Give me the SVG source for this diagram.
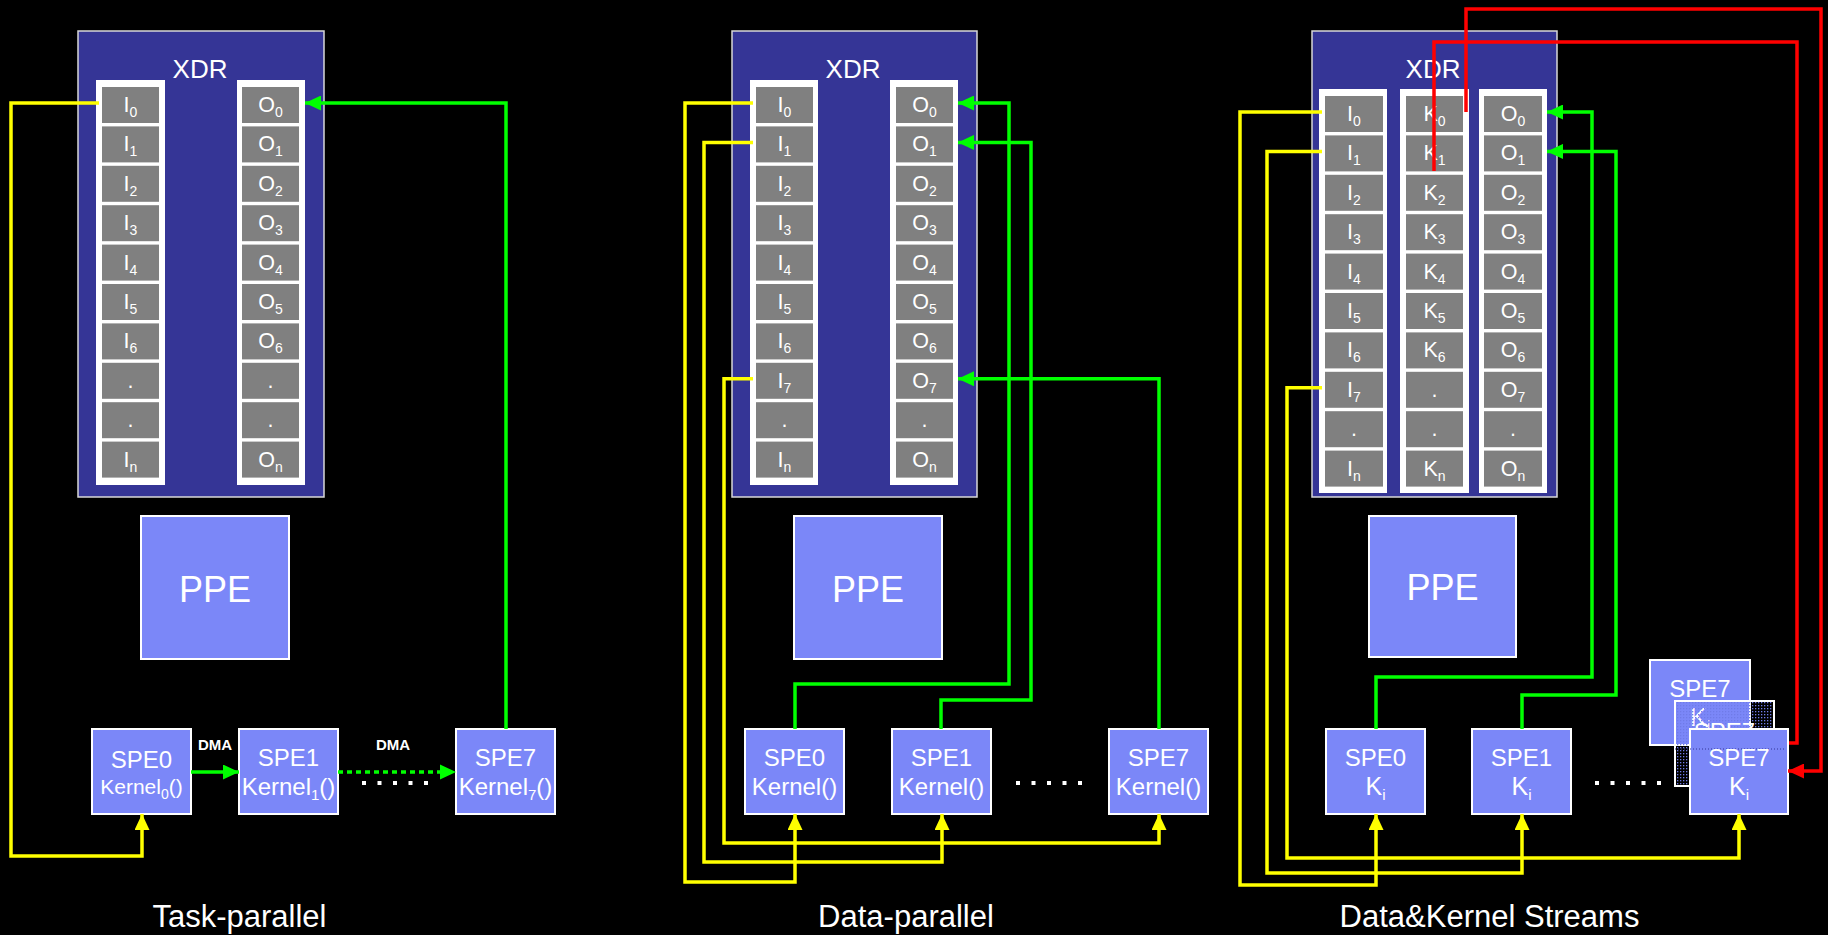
<svg xmlns="http://www.w3.org/2000/svg" width="1828" height="935" viewBox="0 0 1828 935">
<defs>
<style>
.xdr{fill:#353596;stroke:#d8d8d8;stroke-width:1.5}
.frame{fill:#ffffff}
.cell{fill:#808080}
.ct{font-family:"Liberation Sans",Arial,sans-serif;font-size:21.5px;fill:#fff;text-anchor:middle}
.ct tspan{font-size:14px}
.box{fill:#7b87f8;stroke:#fff;stroke-width:2}
.t{font-family:"Liberation Sans",Arial,sans-serif;fill:#fff;text-anchor:middle}
.y{stroke:#ffff00;stroke-width:3.5;fill:none}
.g{stroke:#00ff00;stroke-width:3.5;fill:none}
.r{stroke:#ff0000;stroke-width:3.5;fill:none}
.dots{stroke:#fff;stroke-width:4;stroke-dasharray:4 11.5;fill:none}
</style>
<marker id="ay" markerUnits="userSpaceOnUse" markerWidth="16" markerHeight="15" refX="16" refY="7.5" orient="auto" viewBox="0 0 16 15"><path d="M0,0 L16,7.5 L0,15 z" fill="#ffff00"/></marker>
<marker id="ag" markerUnits="userSpaceOnUse" markerWidth="16" markerHeight="15" refX="16" refY="7.5" orient="auto" viewBox="0 0 16 15"><path d="M0,0 L16,7.5 L0,15 z" fill="#00ff00"/></marker>
<marker id="ar" markerUnits="userSpaceOnUse" markerWidth="16" markerHeight="15" refX="16" refY="7.5" orient="auto" viewBox="0 0 16 15"><path d="M0,0 L16,7.5 L0,15 z" fill="#ff0000"/></marker>
<pattern id="dotpat" patternUnits="userSpaceOnUse" width="3" height="3"><rect x="0" y="0" width="1.3" height="1.3" fill="#6f7be8"/></pattern>
</defs>
<rect x="0" y="0" width="1828" height="935" fill="#000"/>

<!-- ===== Panel 1: Task-parallel ===== -->
<g id="xdr1">
<rect class="xdr" x="78" y="31" width="246" height="466"/>
<text class="t" x="200" y="78" font-size="26">XDR</text>
<rect class="frame" x="96" y="80" width="69" height="405"/>
<rect class="frame" x="237" y="80" width="68" height="405"/>
<g class="cell">
<rect x="102" y="87" width="57" height="36"/><rect x="102" y="126.4" width="57" height="36"/><rect x="102" y="165.8" width="57" height="36"/><rect x="102" y="205.2" width="57" height="36"/><rect x="102" y="244.6" width="57" height="36"/><rect x="102" y="284" width="57" height="36"/><rect x="102" y="323.4" width="57" height="36"/><rect x="102" y="362.8" width="57" height="36"/><rect x="102" y="402.2" width="57" height="36"/><rect x="102" y="441.6" width="57" height="36"/>
<rect x="242" y="87" width="57" height="36"/><rect x="242" y="126.4" width="57" height="36"/><rect x="242" y="165.8" width="57" height="36"/><rect x="242" y="205.2" width="57" height="36"/><rect x="242" y="244.6" width="57" height="36"/><rect x="242" y="284" width="57" height="36"/><rect x="242" y="323.4" width="57" height="36"/><rect x="242" y="362.8" width="57" height="36"/><rect x="242" y="402.2" width="57" height="36"/><rect x="242" y="441.6" width="57" height="36"/>
</g>
<text class="ct" x="130.5" y="112">I<tspan dy="5">0</tspan></text>
<text class="ct" x="130.5" y="151.4">I<tspan dy="5">1</tspan></text>
<text class="ct" x="130.5" y="190.8">I<tspan dy="5">2</tspan></text>
<text class="ct" x="130.5" y="230.2">I<tspan dy="5">3</tspan></text>
<text class="ct" x="130.5" y="269.6">I<tspan dy="5">4</tspan></text>
<text class="ct" x="130.5" y="309">I<tspan dy="5">5</tspan></text>
<text class="ct" x="130.5" y="348.4">I<tspan dy="5">6</tspan></text>
<text class="ct" x="130.5" y="387.8">.</text>
<text class="ct" x="130.5" y="427.2">.</text>
<text class="ct" x="130.5" y="466.6">I<tspan dy="5">n</tspan></text>
<text class="ct" x="270.5" y="112">O<tspan dy="5">0</tspan></text>
<text class="ct" x="270.5" y="151.4">O<tspan dy="5">1</tspan></text>
<text class="ct" x="270.5" y="190.8">O<tspan dy="5">2</tspan></text>
<text class="ct" x="270.5" y="230.2">O<tspan dy="5">3</tspan></text>
<text class="ct" x="270.5" y="269.6">O<tspan dy="5">4</tspan></text>
<text class="ct" x="270.5" y="309">O<tspan dy="5">5</tspan></text>
<text class="ct" x="270.5" y="348.4">O<tspan dy="5">6</tspan></text>
<text class="ct" x="270.5" y="387.8">.</text>
<text class="ct" x="270.5" y="427.2">.</text>
<text class="ct" x="270.5" y="466.6">O<tspan dy="5">n</tspan></text>
</g>
<g id="ppe1">
<rect class="box" x="141" y="516" width="148" height="143"/>
<text class="t" x="215" y="602" font-size="36">PPE</text>
</g>
<g id="spe0-1">
<rect class="box" x="92" y="729" width="99" height="85"/>
<text class="t" x="141.5" y="768" font-size="24">SPE0</text>
<text class="t" x="141.5" y="794" font-size="21">Kernel<tspan dy="5" font-size="14">0</tspan><tspan dy="-5">()</tspan></text>
</g>
<g id="spe1-1">
<rect class="box" x="239" y="729" width="99" height="85"/>
<text class="t" x="288.5" y="766" font-size="24">SPE1</text>
<text class="t" x="288.5" y="795" font-size="24">Kernel<tspan dy="5" font-size="15">1</tspan><tspan dy="-5">()</tspan></text>
</g>
<g id="spe7-1">
<rect class="box" x="456" y="729" width="99" height="85"/>
<text class="t" x="505.5" y="766" font-size="24">SPE7</text>
<text class="t" x="505.5" y="795" font-size="24">Kernel<tspan dy="5" font-size="15">7</tspan><tspan dy="-5">()</tspan></text>
</g>
<g id="labels1">
<text class="t" x="215" y="750" font-size="15" font-weight="bold">DMA</text>
<text class="t" x="393" y="750" font-size="15" font-weight="bold">DMA</text>
<path class="dots" d="M362,783 H428"/>
<text class="t" x="239.5" y="927" font-size="31">Task-parallel</text>
</g>

<!-- ===== Panel 2: Data-parallel ===== -->
<g id="xdr2">
<rect class="xdr" x="732" y="31" width="245" height="466"/>
<text class="t" x="853" y="78" font-size="26">XDR</text>
<rect class="frame" x="750" y="80" width="68" height="405"/>
<rect class="frame" x="890" y="80" width="68" height="405"/>
<g class="cell">
<rect x="756" y="87" width="57" height="36"/><rect x="756" y="126.4" width="57" height="36"/><rect x="756" y="165.8" width="57" height="36"/><rect x="756" y="205.2" width="57" height="36"/><rect x="756" y="244.6" width="57" height="36"/><rect x="756" y="284" width="57" height="36"/><rect x="756" y="323.4" width="57" height="36"/><rect x="756" y="362.8" width="57" height="36"/><rect x="756" y="402.2" width="57" height="36"/><rect x="756" y="441.6" width="57" height="36"/>
<rect x="896" y="87" width="57" height="36"/><rect x="896" y="126.4" width="57" height="36"/><rect x="896" y="165.8" width="57" height="36"/><rect x="896" y="205.2" width="57" height="36"/><rect x="896" y="244.6" width="57" height="36"/><rect x="896" y="284" width="57" height="36"/><rect x="896" y="323.4" width="57" height="36"/><rect x="896" y="362.8" width="57" height="36"/><rect x="896" y="402.2" width="57" height="36"/><rect x="896" y="441.6" width="57" height="36"/>
</g>
<text class="ct" x="784.5" y="112">I<tspan dy="5">0</tspan></text>
<text class="ct" x="784.5" y="151.4">I<tspan dy="5">1</tspan></text>
<text class="ct" x="784.5" y="190.8">I<tspan dy="5">2</tspan></text>
<text class="ct" x="784.5" y="230.2">I<tspan dy="5">3</tspan></text>
<text class="ct" x="784.5" y="269.6">I<tspan dy="5">4</tspan></text>
<text class="ct" x="784.5" y="309">I<tspan dy="5">5</tspan></text>
<text class="ct" x="784.5" y="348.4">I<tspan dy="5">6</tspan></text>
<text class="ct" x="784.5" y="387.8">I<tspan dy="5">7</tspan></text>
<text class="ct" x="784.5" y="427.2">.</text>
<text class="ct" x="784.5" y="466.6">I<tspan dy="5">n</tspan></text>
<text class="ct" x="924.5" y="112">O<tspan dy="5">0</tspan></text>
<text class="ct" x="924.5" y="151.4">O<tspan dy="5">1</tspan></text>
<text class="ct" x="924.5" y="190.8">O<tspan dy="5">2</tspan></text>
<text class="ct" x="924.5" y="230.2">O<tspan dy="5">3</tspan></text>
<text class="ct" x="924.5" y="269.6">O<tspan dy="5">4</tspan></text>
<text class="ct" x="924.5" y="309">O<tspan dy="5">5</tspan></text>
<text class="ct" x="924.5" y="348.4">O<tspan dy="5">6</tspan></text>
<text class="ct" x="924.5" y="387.8">O<tspan dy="5">7</tspan></text>
<text class="ct" x="924.5" y="427.2">.</text>
<text class="ct" x="924.5" y="466.6">O<tspan dy="5">n</tspan></text>
</g>
<g id="ppe2">
<rect class="box" x="794" y="516" width="148" height="143"/>
<text class="t" x="868" y="602" font-size="36">PPE</text>
</g>
<g id="spe0-2">
<rect class="box" x="745" y="729" width="99" height="85"/>
<text class="t" x="794.5" y="766" font-size="24">SPE0</text>
<text class="t" x="794.5" y="795" font-size="24">Kernel()</text>
</g>
<g id="spe1-2">
<rect class="box" x="892" y="729" width="99" height="85"/>
<text class="t" x="941.5" y="766" font-size="24">SPE1</text>
<text class="t" x="941.5" y="795" font-size="24">Kernel()</text>
</g>
<g id="spe7-2">
<rect class="box" x="1109" y="729" width="99" height="85"/>
<text class="t" x="1158.5" y="766" font-size="24">SPE7</text>
<text class="t" x="1158.5" y="795" font-size="24">Kernel()</text>
</g>
<g id="labels2">
<path class="dots" d="M1016,783 H1082"/>
<text class="t" x="906" y="927" font-size="31">Data-parallel</text>
</g>

<!-- ===== Panel 3: Data&Kernel Streams ===== -->
<g id="xdr3">
<rect class="xdr" x="1312" y="31" width="245" height="466"/>
<text class="t" x="1433" y="78" font-size="26">XDR</text>
<rect class="frame" x="1319" y="89" width="68" height="404"/>
<rect class="frame" x="1400" y="89" width="69" height="404"/>
<rect class="frame" x="1479" y="89" width="68" height="404"/>
<g class="cell">
<rect x="1325" y="96" width="58" height="36"/><rect x="1325" y="135.4" width="58" height="36"/><rect x="1325" y="174.8" width="58" height="36"/><rect x="1325" y="214.2" width="58" height="36"/><rect x="1325" y="253.6" width="58" height="36"/><rect x="1325" y="293" width="58" height="36"/><rect x="1325" y="332.4" width="58" height="36"/><rect x="1325" y="371.8" width="58" height="36"/><rect x="1325" y="411.2" width="58" height="36"/><rect x="1325" y="450.6" width="58" height="36"/>
<rect x="1406" y="96" width="57" height="36"/><rect x="1406" y="135.4" width="57" height="36"/><rect x="1406" y="174.8" width="57" height="36"/><rect x="1406" y="214.2" width="57" height="36"/><rect x="1406" y="253.6" width="57" height="36"/><rect x="1406" y="293" width="57" height="36"/><rect x="1406" y="332.4" width="57" height="36"/><rect x="1406" y="371.8" width="57" height="36"/><rect x="1406" y="411.2" width="57" height="36"/><rect x="1406" y="450.6" width="57" height="36"/>
<rect x="1484" y="96" width="58" height="36"/><rect x="1484" y="135.4" width="58" height="36"/><rect x="1484" y="174.8" width="58" height="36"/><rect x="1484" y="214.2" width="58" height="36"/><rect x="1484" y="253.6" width="58" height="36"/><rect x="1484" y="293" width="58" height="36"/><rect x="1484" y="332.4" width="58" height="36"/><rect x="1484" y="371.8" width="58" height="36"/><rect x="1484" y="411.2" width="58" height="36"/><rect x="1484" y="450.6" width="58" height="36"/>
</g>
<text class="ct" x="1354" y="121">I<tspan dy="5">0</tspan></text>
<text class="ct" x="1354" y="160.4">I<tspan dy="5">1</tspan></text>
<text class="ct" x="1354" y="199.8">I<tspan dy="5">2</tspan></text>
<text class="ct" x="1354" y="239.2">I<tspan dy="5">3</tspan></text>
<text class="ct" x="1354" y="278.6">I<tspan dy="5">4</tspan></text>
<text class="ct" x="1354" y="318">I<tspan dy="5">5</tspan></text>
<text class="ct" x="1354" y="357.4">I<tspan dy="5">6</tspan></text>
<text class="ct" x="1354" y="396.8">I<tspan dy="5">7</tspan></text>
<text class="ct" x="1354" y="436.2">.</text>
<text class="ct" x="1354" y="475.6">I<tspan dy="5">n</tspan></text>
<text class="ct" x="1434.5" y="121">K<tspan dy="5">0</tspan></text>
<text class="ct" x="1434.5" y="160.4">K<tspan dy="5">1</tspan></text>
<text class="ct" x="1434.5" y="199.8">K<tspan dy="5">2</tspan></text>
<text class="ct" x="1434.5" y="239.2">K<tspan dy="5">3</tspan></text>
<text class="ct" x="1434.5" y="278.6">K<tspan dy="5">4</tspan></text>
<text class="ct" x="1434.5" y="318">K<tspan dy="5">5</tspan></text>
<text class="ct" x="1434.5" y="357.4">K<tspan dy="5">6</tspan></text>
<text class="ct" x="1434.5" y="396.8">.</text>
<text class="ct" x="1434.5" y="436.2">.</text>
<text class="ct" x="1434.5" y="475.6">K<tspan dy="5">n</tspan></text>
<text class="ct" x="1513" y="121">O<tspan dy="5">0</tspan></text>
<text class="ct" x="1513" y="160.4">O<tspan dy="5">1</tspan></text>
<text class="ct" x="1513" y="199.8">O<tspan dy="5">2</tspan></text>
<text class="ct" x="1513" y="239.2">O<tspan dy="5">3</tspan></text>
<text class="ct" x="1513" y="278.6">O<tspan dy="5">4</tspan></text>
<text class="ct" x="1513" y="318">O<tspan dy="5">5</tspan></text>
<text class="ct" x="1513" y="357.4">O<tspan dy="5">6</tspan></text>
<text class="ct" x="1513" y="396.8">O<tspan dy="5">7</tspan></text>
<text class="ct" x="1513" y="436.2">.</text>
<text class="ct" x="1513" y="475.6">O<tspan dy="5">n</tspan></text>
</g>
<g id="ppe3">
<rect class="box" x="1369" y="516" width="147" height="141"/>
<text class="t" x="1442.5" y="600" font-size="36">PPE</text>
</g>
<g id="spe0-3">
<rect class="box" x="1326" y="729" width="99" height="85"/>
<text class="t" x="1375.5" y="766" font-size="24">SPE0</text>
<text class="t" x="1375.5" y="795" font-size="25">K<tspan dy="5" font-size="15">i</tspan></text>
</g>
<g id="spe1-3">
<rect class="box" x="1472" y="729" width="99" height="85"/>
<text class="t" x="1521.5" y="766" font-size="24">SPE1</text>
<text class="t" x="1521.5" y="795" font-size="25">K<tspan dy="5" font-size="15">i</tspan></text>
</g>
<g id="spe7-3-back">
<rect class="box" x="1650" y="660" width="100" height="85"/>
<text class="t" x="1700" y="697" font-size="24">SPE7</text>
<text class="t" x="1700" y="726" font-size="25">K<tspan dy="5" font-size="15">i</tspan></text>
</g>
<g id="spe7-3-mid">
<rect x="1675" y="701" width="99" height="85" fill="url(#dotpat)" stroke="#fff" stroke-width="2"/>
<text class="t" x="1724.5" y="740" font-size="24">SPE7</text>
</g>
<g id="spe7-3">
<rect class="box" x="1690" y="729" width="98" height="85"/>
<path d="M1675,749 H1786" stroke="#353596" stroke-width="1" stroke-dasharray="1 2" fill="none"/>
<text class="t" x="1739" y="766" font-size="24">SPE7</text>
<text class="t" x="1739" y="795" font-size="25">K<tspan dy="5" font-size="15">i</tspan></text>
</g>
<g id="labels3">
<path class="dots" d="M1595,783 H1661"/>
<text class="t" x="1489.5" y="927" font-size="31">Data&amp;Kernel Streams</text>
</g>

<!-- ===== Connectors ===== -->
<g id="connectors">
<!-- panel 1 -->
<path class="y" d="M99,103 H11 V856 H142 V814" marker-end="url(#ay)"/>
<path class="g" d="M506,729 V103 H305" marker-end="url(#ag)"/>
<path class="g" d="M191,772 H239" stroke-width="4" marker-end="url(#ag)"/>
<path class="g" d="M338,772 H450" stroke-width="5" stroke-dasharray="5 4"/>
<path d="M440,764.5 L456,772 L440,779.5 z" fill="#00ff00"/>
<!-- panel 2 -->
<path class="y" d="M753,103 H685 V882 H795 V814" marker-end="url(#ay)"/>
<path class="y" d="M753,142.4 H704 V862 H942 V814" marker-end="url(#ay)"/>
<path class="y" d="M753,378.8 H724 V843 H1159 V814" marker-end="url(#ay)"/>
<path class="g" d="M795,729 V684 H1009 V103 H958" marker-end="url(#ag)"/>
<path class="g" d="M941,729 V700 H1031 V142.4 H958" marker-end="url(#ag)"/>
<path class="g" d="M1159,729 V378.8 H958" marker-end="url(#ag)"/>
<!-- panel 3 -->
<path class="y" d="M1322,112 H1240 V885 H1376 V814" marker-end="url(#ay)"/>
<path class="y" d="M1322,151.4 H1267 V873 H1522 V814" marker-end="url(#ay)"/>
<path class="y" d="M1322,387.8 H1287 V858 H1739 V814" marker-end="url(#ay)"/>
<path class="g" d="M1376,729 V677 H1592 V112 H1547" marker-end="url(#ag)"/>
<path class="g" d="M1522,729 V695 H1616 V151.4 H1547" marker-end="url(#ag)"/>
<path class="r" d="M1466,112 V9 H1821 V771 H1788" marker-end="url(#ar)"/>
<path class="r" d="M1434,171 V42 H1797 V743 H1789"/>
</g>
</svg>
